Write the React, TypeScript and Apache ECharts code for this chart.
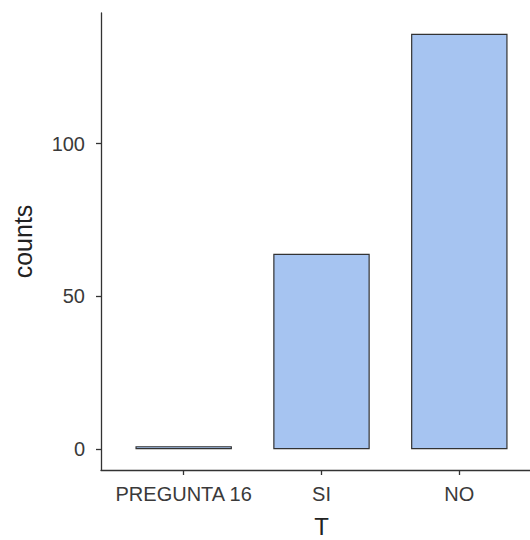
import React, { useEffect, useRef } from "react";
import * as echarts from "echarts";

const categories = ["PREGUNTA 16", "SI", "NO"];
const counts = [1, 64, 136];
const yTicks = [0, 50, 100];
const xTitle = "T";
const yTitle = "counts";

export default function App() {
  const ref = useRef<HTMLDivElement>(null);
  useEffect(() => {
    if (!ref.current) return;
    const chart = echarts.init(ref.current, undefined, { renderer: "svg" });
    const gridLeft = 101;
    const gridWidth = 441;
    const xMin = 0.4;
    const xMax = categories.length + 0.6;
    const unit = gridWidth / (xMax - xMin);
    const maxV = Math.max(...counts);
    const pad = maxV * 0.05;
    const font = "'Liberation Sans', Arial, sans-serif";
    const axisColor = "#333333";
    chart.setOption({
      animation: false,
      backgroundColor: "#ffffff",
      grid: {
        left: gridLeft,
        top: 13,
        width: gridWidth,
        bottom: 70,
        containLabel: false,
        outerBoundsMode: "none",
      },
      xAxis: {
        type: "value",
        min: xMin,
        max: xMax,
        name: xTitle,
        nameLocation: "middle",
        nameGap: 44,
        nameTextStyle: { fontSize: 24, lineHeight: 24, color: "#222", fontFamily: font },
        axisLine: { show: true, onZero: false, lineStyle: { color: axisColor, width: 1.3 } },
        axisTick: {
          show: true,
          length: 5,
          customValues: categories.map((_, i) => i + 1),
          lineStyle: { color: axisColor, width: 1.3 },
        },
        axisLabel: {
          customValues: categories.map((_, i) => i + 1),
          formatter: (v: number) => categories[Math.round(v) - 1] ?? "",
          fontSize: 20,
          color: "#3a3a3a",
          margin: 14,
          fontFamily: font,
        },
        splitLine: { show: false },
      },
      yAxis: {
        type: "value",
        min: -pad,
        max: maxV + pad,
        name: yTitle,
        nameLocation: "middle",
        nameRotate: 90,
        nameGap: 66,
        nameTextStyle: { fontSize: 25, color: "#222", fontFamily: font },
        axisLine: { show: true, onZero: false, lineStyle: { color: axisColor, width: 1.3 } },
        axisTick: {
          show: true,
          length: 5,
          customValues: yTicks,
          lineStyle: { color: axisColor, width: 1.3 },
        },
        axisLabel: {
          customValues: yTicks,
          fontSize: 20,
          color: "#3a3a3a",
          margin: 16,
          fontFamily: font,
        },
        splitLine: { show: false },
      },
      series: [
        {
          type: "bar",
          data: counts.map((c, i) => [i + 1, c]),
          barWidth: unit * 0.7,
          itemStyle: {
            color: "#a6c4f1",
            borderColor: "#333333",
            borderWidth: 1.2,
          },
        },
      ],
    });
    return () => chart.dispose();
  }, []);
  return (
    <div
      ref={ref}
      style={{ position: "absolute", left: 0, top: 0, width: 530, height: 540 }}
    />
  );
}
